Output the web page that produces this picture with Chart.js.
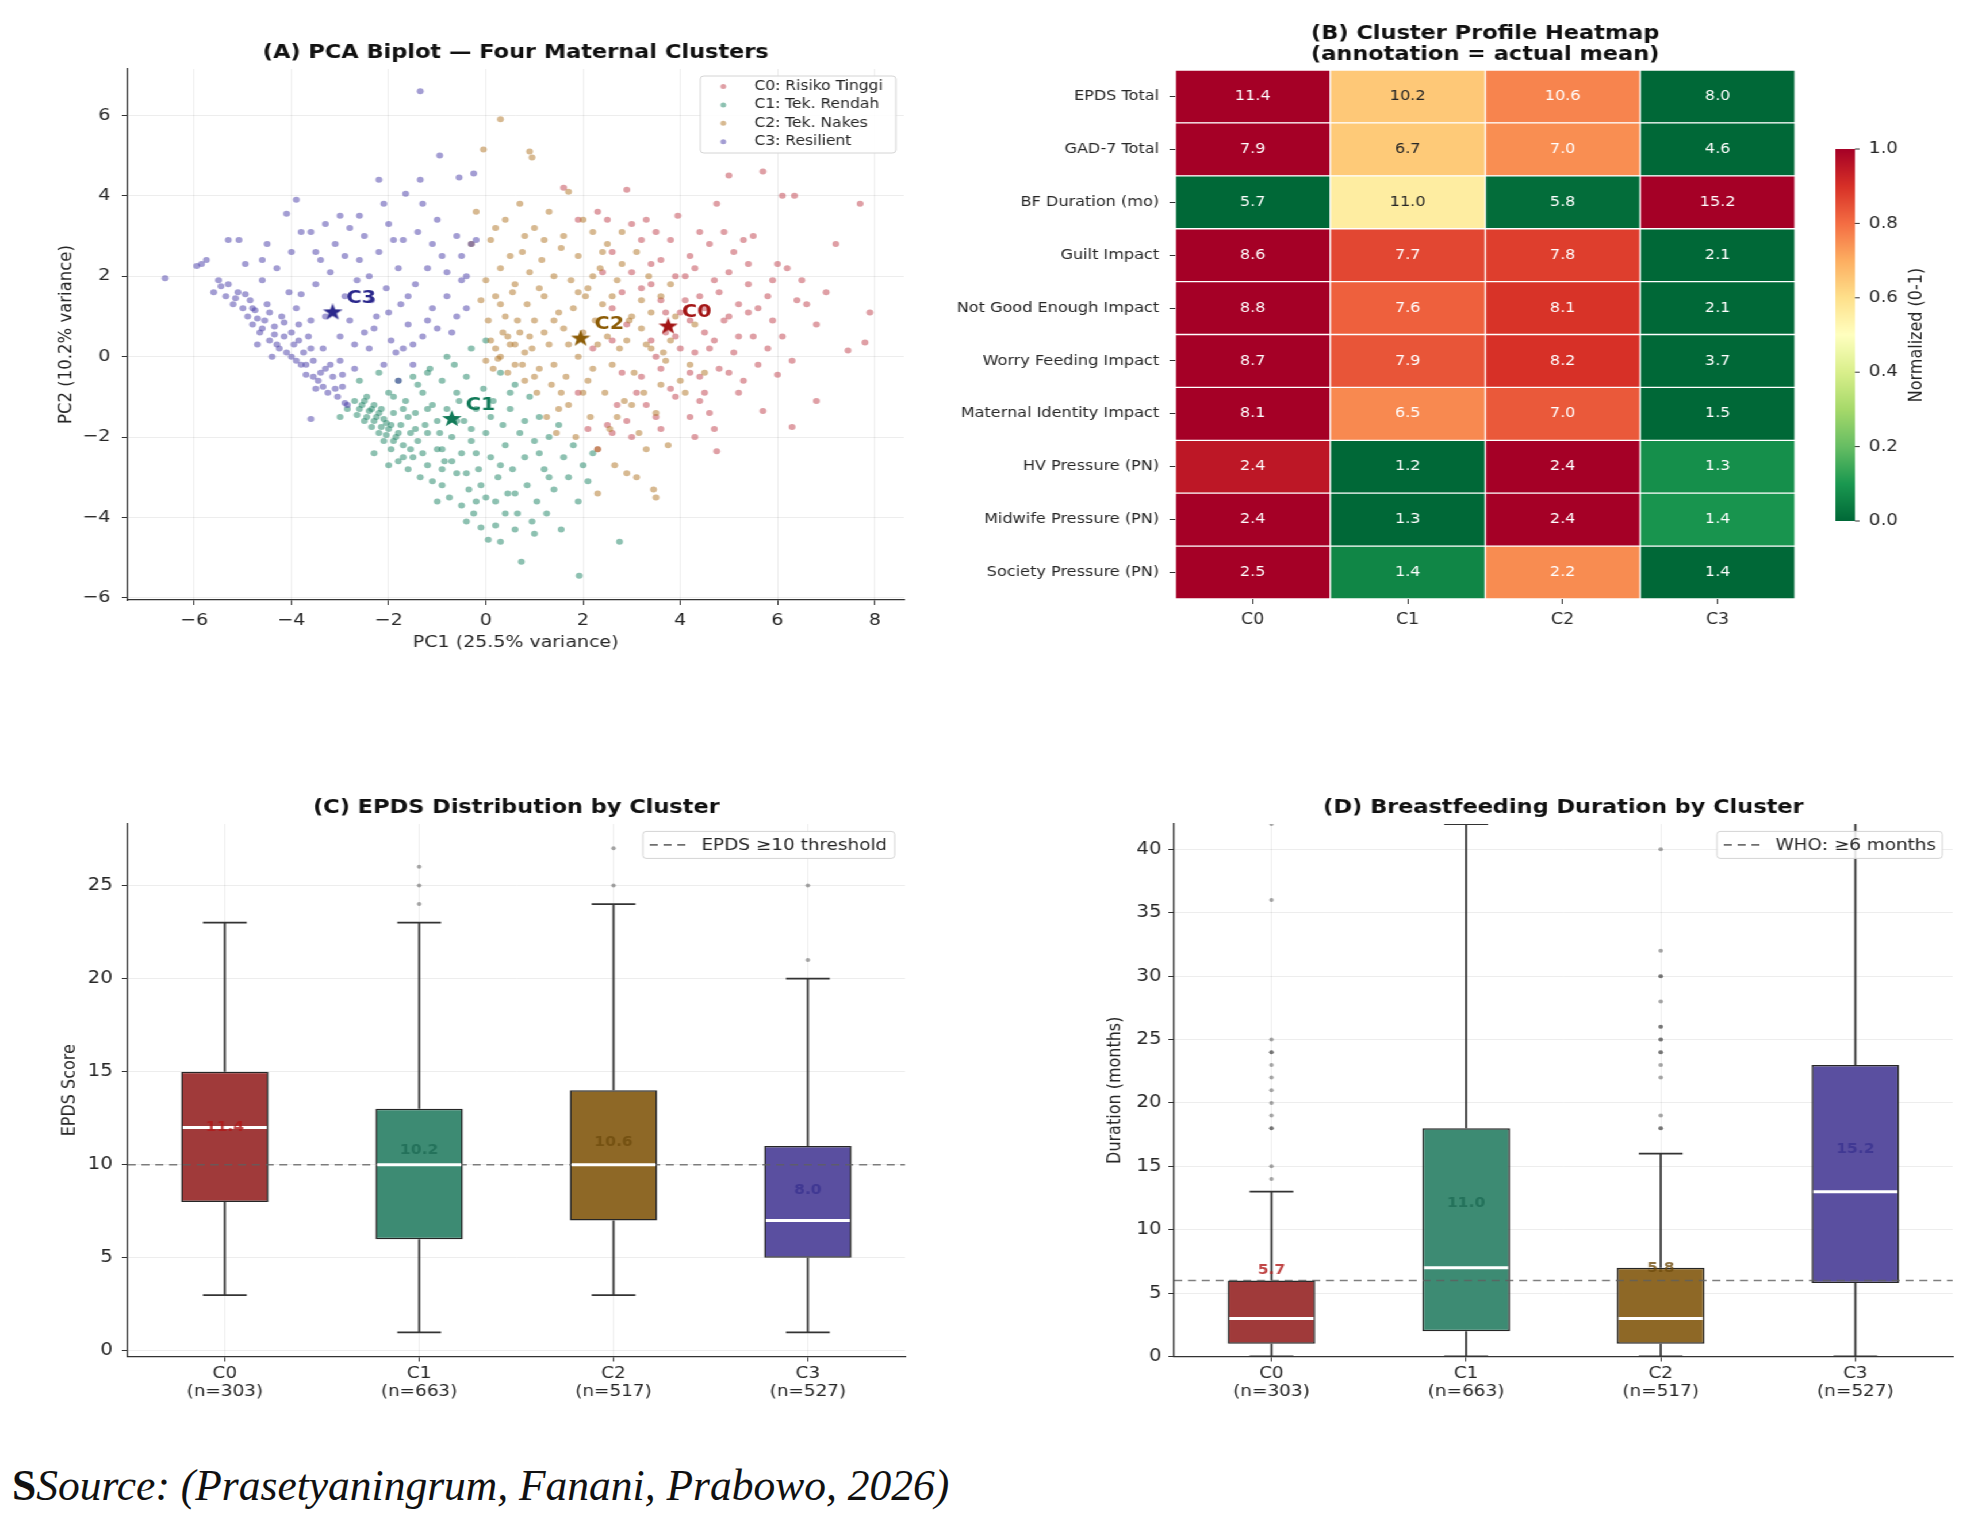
<!DOCTYPE html>
<html>
<head>
<meta charset="utf-8">
<title>Maternal clusters</title>
<script src="https://cdn.jsdelivr.net/npm/chart.js@4.4.1/dist/chart.umd.min.js"></script>
<style>
    html, body { margin: 0; padding: 0; background: #fff; }
    body { width: 1969px; height: 1523px; position: relative; overflow: hidden; }
    #fig { position: absolute; left: 0; top: 0; width: 1712px; height: 1440px; transform: scaleX(1.15); transform-origin: 0 0; }
    #fig canvas { position: absolute; }
    #source { position: absolute; left: 12px; top: 1460px; font: italic 43.5px/50px "Liberation Serif", serif; color: #111; white-space: nowrap; }
    #source b { font-style: normal; }
</style>
</head>
<body>
<div id="fig">
    <canvas id="pca" width="835" height="700" style="left:0;top:0"></canvas>
    <canvas id="heat" width="895" height="660" style="left:817px;top:0"></canvas>
    <canvas id="epds" width="835" height="660" style="left:0;top:760px"></canvas>
    <canvas id="bf" width="862" height="660" style="left:850px;top:760px"></canvas>
</div>
<div id="source"><b>S</b>Source: (Prasetyaningrum, Fanani, Prabowo, 2026)</div>
<script>
// ---------- shared ----------
const clusterNames = ["C0", "C1", "C2", "C3"];
const nLabels = ["(n=303)", "(n=663)", "(n=517)", "(n=527)"];

// ---------- (A) PCA biplot ----------
const legendNames = ["C0: Risiko Tinggi", "C1: Tek. Rendah", "C2: Tek. Nakes", "C3: Resilient"];
const pcaC0 = [[1.6,4.2],[1.9,3.4],[2.3,3.6],[2.5,3.4],[2.6,2.6],[2.9,4.15],[3.0,3.3],[3.2,2.9],[3.3,3.4],[3.5,3.1],[3.6,2.4],[3.8,2.9],[3.95,3.5],[4.1,2.0],[4.2,2.5],[4.4,3.1],[4.6,2.8],[4.75,3.8],[4.8,1.6],[4.9,3.1],[5.0,4.5],[5.0,2.1],[5.2,1.3],[5.3,2.9],[5.4,2.3],[5.5,3.0],[5.6,1.2],[5.7,4.6],[5.8,1.5],[5.9,1.9],[6.0,2.3],[6.1,4.0],[6.2,2.2],[6.35,4.0],[6.4,1.4],[6.5,1.9],[6.6,1.3],[6.8,0.8],[7.0,1.6],[7.2,2.8],[7.45,0.15],[7.7,3.8],[7.8,0.35],[7.9,1.1],[6.3,-0.1],[6.0,-0.45],[6.8,-1.1],[6.3,-1.75],[5.7,-1.35],[5.9,0.9],[6.1,0.5],[5.6,-0.2],[5.5,0.5],[5.3,-0.6],[5.2,-0.9],[5.1,0.1],[4.9,0.9],[4.7,1.9],[4.6,-1.4],[4.7,-1.8],[4.75,-2.35],[4.5,0.6],[4.4,-0.5],[4.4,1.5],[4.3,0.1],[4.3,-2.0],[4.2,-1.5],[4.0,0.2],[4.0,1.1],[3.9,-1.0],[3.9,2.0],[3.6,1.4],[3.6,-0.3],[3.5,-1.5],[3.4,0.4],[3.3,-1.2],[3.2,1.7],[3.2,-0.5],[3.0,-2.0],[2.9,0.8],[2.8,-0.4],[2.7,-1.2],[2.6,1.2],[2.4,2.1],[2.3,-2.3],[2.2,0.2],[2.1,-1.8],[1.9,-0.9],[2.6,-1.9],[2.5,-1.7],[3.8,-0.8],[4.5,-0.9],[5.4,1.8],[4.6,0.2],[3.7,0.6],[4.2,0.9],[5.0,-0.4],[2.8,1.6],[3.4,2.3],[2.9,-1.6],
    [3.4,1.8],[3.7,1.1],[3.9,0.5],[4.1,1.4],[4.3,2.2],[4.5,1.2],[4.7,0.4],[4.8,-0.3],[5.0,1.0],[5.2,0.5],[5.4,1.1],[5.1,2.6],[4.4,-1.1],[3.6,-1.8],[3.1,-0.9],[2.6,0.4],[3.0,2.1],[3.5,0.0],[4.2,-0.4],[5.8,0.2]];
const pcaC1 = [[-3.0,-1.5],[-2.85,-1.3],[-2.7,-1.1],[-2.65,-1.45],[-2.6,-0.6],[-2.55,-1.2],[-2.5,-1.6],[-2.45,-1.0],[-2.4,-1.35],[-2.35,-1.75],[-2.3,-1.2],[-2.3,-2.4],[-2.25,-1.5],[-2.2,-1.9],[-2.2,-0.4],[-2.15,-1.3],[-2.1,-2.1],[-2.05,-1.65],[-2.0,-0.9],[-2.0,-1.8],[-2.0,-2.7],[-1.95,-2.3],[-1.9,-1.4],[-1.9,-1.0],[-1.85,-2.0],[-1.8,-0.6],[-1.8,-2.6],[-1.75,-1.7],[-1.7,-2.2],[-1.7,-1.3],[-1.65,-1.1],[-1.6,-2.8],[-1.55,-1.9],[-1.5,-0.5],[-1.5,-2.5],[-1.45,-1.4],[-1.4,-2.1],[-1.4,-0.7],[-1.35,-3.0],[-1.3,-0.9],[-1.25,-1.7],[-1.2,-2.7],[-1.2,-1.9],[-1.2,-0.4],[-1.15,-0.3],[-1.1,-3.1],[-1.1,-1.2],[-1.0,-2.3],[-0.95,-1.9],[-0.9,-0.6],[-0.9,-3.2],[-0.9,-2.3],[-0.85,-2.6],[-0.8,-1.3],[-0.8,0.0],[-0.75,-3.5],[-0.7,-2.0],[-0.65,-0.2],[-0.6,-2.9],[-0.6,-1.6],[-0.55,-1.1],[-0.5,-3.7],[-0.5,-2.4],[-0.45,-1.6],[-0.4,-0.5],[-0.4,-4.1],[-0.35,-3.3],[-0.3,-2.1],[-0.3,0.2],[-0.25,-3.9],[-0.2,-1.3],[-0.2,-2.4],[-0.15,-2.8],[-0.1,-4.25],[-0.05,-0.8],[0.0,-1.9],[0.0,-3.5],[0.0,0.4],[0.05,-4.55],[0.1,-2.5],[0.15,-1.1],[0.2,-4.2],[0.2,-3.6],[0.25,-3.0],[0.3,-0.4],[0.3,-4.6],[0.35,-1.7],[0.4,-2.2],[0.45,-3.4],[0.5,-1.3],[0.55,-2.8],[0.6,-0.7],[0.6,-4.3],[0.65,-3.9],[0.7,-1.9],[0.73,-5.1],[0.8,-2.5],[0.85,-3.2],[0.9,-1.0],[0.95,-4.1],[1.0,-2.1],[1.0,-4.4],[1.05,-3.6],[1.1,-1.5],[1.2,-2.8],[1.25,-3.9],[1.3,-2.0],[1.4,-3.3],[1.5,-1.7],[1.55,-4.3],[1.6,-2.5],[1.7,-3.0],[1.8,-2.2],[1.9,-3.6],[1.92,-5.45],[2.0,-2.7],[2.1,-3.1],[2.2,-2.4],[2.75,-4.6],
    [-2.6,-1.3],[-2.5,-1.1],[-2.45,-1.5],[-2.35,-1.3],[-2.3,-1.6],[-2.2,-1.4],[-2.15,-1.75],[-2.1,-1.55],[-2.05,-1.95],[-1.95,-1.7],[-1.9,-2.1],[-1.8,-1.9],[-1.7,-2.5],[-1.6,-1.5],[-1.55,-2.3],[-1.45,-1.8],[-1.3,-2.4],[-1.2,-1.3],[-1.0,-1.6],[-0.9,-2.8],[-0.7,-2.6],[-0.6,-0.9],[-0.4,-2.9],[-0.3,-1.8],[-0.1,-3.2],[0.1,-1.5],[0.3,-2.7],[0.5,-0.9],[0.6,-3.4],[0.8,-1.6],[1.1,-2.4],[1.3,-3.0],[-1.0,-3.6],[-0.2,-3.6],[0.4,-3.9]];
const pcaC2 = [[-0.05,5.15],[0.3,5.9],[0.9,5.1],[0.95,4.95],[-0.3,2.8],[-0.2,3.6],[-0.1,1.4],[0.0,1.9],[0.0,-0.1],[0.05,0.9],[0.1,2.9],[0.1,0.4],[0.15,-0.3],[0.2,3.2],[0.2,1.5],[0.25,-0.05],[0.3,2.2],[0.35,0.6],[0.4,3.4],[0.4,1.0],[0.45,-0.4],[0.5,0.3],[0.5,2.5],[0.55,1.6],[0.6,1.8],[0.6,-0.2],[0.65,0.9],[0.7,3.8],[0.7,0.6],[0.75,2.6],[0.8,-0.6],[0.85,1.3],[0.9,2.1],[0.95,0.2],[1.0,3.2],[1.0,0.9],[1.05,-0.9],[1.1,-0.3],[1.1,1.7],[1.15,2.4],[1.2,1.5],[1.25,-1.5],[1.3,3.6],[1.3,0.3],[1.35,-0.7],[1.4,2.0],[1.45,-1.9],[1.5,1.1],[1.55,2.7],[1.6,3.0],[1.6,0.7],[1.65,-0.5],[1.7,4.1],[1.7,-1.2],[1.75,1.9],[1.8,1.2],[1.85,-2.0],[1.9,2.5],[1.9,0.0],[2.0,-0.9],[2.0,3.4],[2.05,1.5],[2.1,1.7],[2.15,-1.5],[2.2,3.1],[2.2,-0.3],[2.25,0.9],[2.3,-2.3],[2.3,-3.4],[2.35,2.2],[2.4,1.3],[2.45,-0.9],[2.5,2.8],[2.5,0.5],[2.55,-1.8],[2.6,-0.2],[2.65,-2.7],[2.7,1.9],[2.75,0.2],[2.8,2.3],[2.85,-1.1],[2.9,-2.9],[2.95,0.9],[3.0,1.0],[3.05,-0.4],[3.1,2.6],[3.1,-3.0],[3.15,-1.9],[3.2,1.4],[3.25,-0.9],[3.3,0.3],[3.35,2.0],[3.4,0.2],[3.45,-3.3],[3.5,-1.4],[3.5,-3.5],[3.6,1.5],[3.65,0.1],[3.7,-0.1],[3.75,-2.2],[3.8,1.8],[3.9,1.0],[4.0,-0.6],[4.1,-0.9],[4.2,-0.2],[4.3,0.8],[4.5,-0.4],[0.8,0.1],[1.4,-0.2],[2.0,0.6],
    [0.2,0.2],[0.3,0.0],[0.45,0.5],[0.6,0.3],[0.75,-0.2],[0.9,0.5],[1.0,-0.5],[1.2,0.6],[1.4,0.9],[1.55,-0.9],[1.7,0.3],[1.9,1.6],[2.1,-0.6],[2.3,0.3],[2.4,2.6],[2.6,1.5],[2.7,-1.5],[2.9,0.4],[3.0,-1.2],[3.2,0.7],[3.3,-2.3],[3.4,1.1],[3.6,-0.7],[3.8,0.4],[1.2,2.9],[0.8,3.0],[1.5,-1.3],[2.2,2.0],[2.8,3.1],[0.3,1.3]];
const pcaC3 = [[-6.6,1.95],[-5.95,2.25],[-5.85,2.3],[-5.75,2.4],[-5.3,2.9],[-5.08,2.9],[-5.6,1.6],[-5.5,1.9],[-5.45,1.75],[-5.35,1.5],[-5.2,1.3],[-5.1,1.6],[-5.0,1.2],[-4.95,2.3],[-4.9,1.0],[-4.85,1.4],[-4.8,0.8],[-4.75,1.15],[-4.7,0.3],[-4.65,0.6],[-4.6,1.9],[-4.6,2.4],[-4.55,0.9],[-4.5,1.3],[-4.5,2.8],[-4.45,0.4],[-4.4,0.0],[-4.35,0.75],[-4.3,2.2],[-4.25,0.2],[-4.2,1.0],[-4.15,0.5],[-4.1,3.55],[-4.05,1.6],[-4.0,0.0],[-4.0,2.6],[-3.95,0.3],[-3.9,3.9],[-3.85,0.8],[-3.8,-0.2],[-3.8,1.55],[-3.8,3.1],[-3.75,0.1],[-3.7,-0.45],[-3.65,0.5],[-3.6,3.1],[-3.6,-1.55],[-3.55,-0.1],[-3.5,1.8],[-3.5,-0.8],[-3.45,-0.6],[-3.4,2.4],[-3.35,0.2],[-3.3,-0.3],[-3.3,3.3],[-3.25,-0.9],[-3.2,2.1],[-3.15,-0.5],[-3.1,2.8],[-3.05,-1.0],[-3.0,-0.1],[-3.0,3.5],[-2.95,-0.75],[-2.9,1.5],[-2.9,-1.15],[-2.85,-1.2],[-2.8,3.2],[-2.8,0.9],[-2.7,-0.3],[-2.65,1.9],[-2.6,2.4],[-2.6,3.5],[-2.5,0.6],[-2.5,3.0],[-2.4,0.2],[-2.35,1.4],[-2.25,1.0],[-2.2,2.6],[-2.2,4.4],[-2.1,-0.2],[-2.05,1.7],[-2.0,3.3],[-1.95,0.4],[-1.9,2.9],[-1.85,0.1],[-1.8,2.2],[-1.8,-0.6],[-1.75,1.3],[-1.7,2.9],[-1.65,4.05],[-1.6,0.8],[-1.5,0.3],[-1.5,-0.2],[-1.45,1.8],[-1.4,3.1],[-1.35,4.4],[-1.35,6.6],[-1.3,0.5],[-1.3,3.8],[-1.2,2.2],[-1.1,1.2],[-1.0,0.7],[-1.0,3.4],[-0.95,5.0],[-0.9,2.5],[-0.8,1.5],[-0.7,0.6],[-0.6,3.0],[-0.55,4.45],[-0.5,1.9],[-0.4,1.2],[-0.4,2.0],[-0.3,2.8],[-0.25,4.55],[-0.2,2.9],
    [-5.3,1.8],[-5.15,1.45],[-4.95,1.55],[-4.8,1.2],[-4.7,0.95],[-4.6,0.7],[-4.45,1.1],[-4.35,0.55],[-4.3,0.3],[-4.15,0.85],[-4.1,0.1],[-4.0,0.6],[-3.9,-0.1],[-3.85,0.4],[-3.7,-0.2],[-3.6,0.2],[-3.55,-0.5],[-3.4,-0.4],[-3.35,-0.75],[-3.2,-0.2],[-3.1,-0.8],[-2.95,-0.45],[-3.9,1.2],[-3.6,0.9],[-3.3,1.0],[-3.0,0.5],[-2.7,0.3],[-2.3,0.7],[-2.0,1.1],[-1.7,0.2],[-1.2,0.9],[-0.8,2.1],[-0.6,1.0],[-1.6,1.5],[-2.4,2.0],[-2.9,2.5],[-3.5,2.6],[-1.1,2.8],[-0.5,2.5],[-2.1,3.8]];
const centroidX = [3.75, -0.7, 1.95, -3.15];
const centroidY = [0.75, -1.55, 0.45, 1.1];

// ---------- (B) cluster profile heatmap (actual means) ----------
const heatRows = ["EPDS Total", "GAD-7 Total", "BF Duration (mo)", "Guilt Impact", "Not Good Enough Impact",
    "Worry Feeding Impact", "Maternal Identity Impact", "HV Pressure (PN)", "Midwife Pressure (PN)", "Society Pressure (PN)"];
const heatC0 = [11.4, 7.86, 5.7, 8.6, 8.8, 8.7, 8.1, 2.37, 2.4, 2.5];
const heatC1 = [10.2, 6.7, 11.0, 7.7, 7.6, 7.9, 6.5, 1.2, 1.3, 1.44];
const heatC2 = [10.6, 7.04, 5.8, 7.8, 8.1, 8.2, 7.0, 2.43, 2.4, 2.22];
const heatC3 = [8.0, 4.6, 15.2, 2.1, 2.1, 3.7, 1.5, 1.3, 1.4, 1.37];
const colorbarTicks = [0, 0.2, 0.4, 0.6, 0.8, 1.0];

// ---------- (C) EPDS by cluster ----------
const epdsLow = [3, 1, 3, 1];
const epdsQ1 = [8, 6, 7, 5];
const epdsMedian = [12, 10, 10, 7];
const epdsQ3 = [15, 13, 14, 11];
const epdsHigh = [23, 23, 24, 20];
const epdsMean = [11.4, 10.2, 10.6, 8.0];
const epdsOutliers = [[], [24, 25, 26], [25, 27], [21, 25]];
const epdsThreshold = 10;

// ---------- (D) breastfeeding duration by cluster ----------
const bfLow = [0, 0, 0, 0];
const bfQ1 = [1, 2, 1, 5.8];
const bfMedian = [3, 7, 3, 13];
const bfQ3 = [6, 18, 7, 23];
const bfHigh = [13, 42, 16, 45];
const bfMean = [5.7, 11.0, 5.8, 15.2];
const bfOutliers = [[14, 15, 18, 18, 19, 20, 21, 22, 23, 24, 24, 25, 36, 42], [],
    [18, 18, 19, 22, 23, 24, 24, 25, 25, 26, 26, 28, 30, 30, 32, 40], []];
const whoThreshold = 6;

// ---------- styles ----------
const FONT = '"DejaVu Sans", sans-serif';
const pointColors = ["rgba(192,64,76,0.5)", "rgba(28,132,100,0.5)", "rgba(176,116,36,0.5)", "rgba(72,60,168,0.5)"];
const starColors = ["#a31515", "#117a58", "#8c5c06", "#2b288c"];
const boxColors = ["#a03a3a", "#3d8b73", "#8e6826", "#5a4fa0"];
const meanColors = ["#b01818", "#1e6b55", "#6f4c0e", "#3a3290"];
const gridColor = "rgba(0,0,0,0.07)";
const rdylgn = ["#006837", "#1a9850", "#66bd63", "#a6d96a", "#d9ef8b", "#ffffbf", "#fee08b", "#fdae61", "#f46d43", "#d73027", "#a50026"];

Chart.defaults.font.family = FONT;
Chart.defaults.color = "#262626";
Chart.defaults.animation = false;
Chart.defaults.plugins.legend.display = false;
Chart.defaults.plugins.tooltip.enabled = false;

const minus = v => String(v).replace("-", "\u2212");

function hexRgb(h) {
    return [1, 3, 5].map(k => parseInt(h.slice(k, k + 2), 16));
}

// RdYlGn reversed: 0 = green, 1 = red
function heatRgb(t) {
    const p = Math.max(0, Math.min(1, t)) * 10;
    const k = Math.min(9, Math.floor(p)), f = p - k;
    const a = hexRgb(rdylgn[k]), b = hexRgb(rdylgn[k + 1]);
    return a.map((v, n) => Math.round(v + (b[n] - v) * f));
}

function luminance(c) {
    const l = c.map(v => {
        v /= 255;
        return v <= 0.03928 ? v / 12.92 : Math.pow((v + 0.055) / 1.055, 2.4);
    });
    return 0.2126 * l[0] + 0.7152 * l[1] + 0.0722 * l[2];
}

function starImage(color, size) {
    const c = document.createElement("canvas");
    c.width = c.height = size;
    const g = c.getContext("2d");
    g.fillStyle = color;
    g.beginPath();
    for (let k = 0; k < 10; k++) {
        const r = k % 2 ? size * 0.2 : size * 0.5;
        const a = -Math.PI / 2 + k * Math.PI / 5;
        g.lineTo(size / 2 + r * Math.cos(a), size / 2 + r * Math.sin(a));
    }
    g.closePath();
    g.fill();
    return c;
}

function seg(ctx, x1, y1, x2, y2) {
    ctx.beginPath();
    ctx.moveTo(x1, y1);
    ctx.lineTo(x2, y2);
    ctx.stroke();
}

function legendBox(ctx, x, y, w, h) {
    ctx.fillStyle = "rgba(255,255,255,0.85)";
    ctx.strokeStyle = "#d4d4d4";
    ctx.lineWidth = 1;
    ctx.beginPath();
    ctx.roundRect(x, y, w, h, 3);
    ctx.fill();
    ctx.stroke();
}

// ================= (A) PCA biplot =================
const pcaSets = [pcaC0, pcaC1, pcaC2, pcaC3];

const pcaExtras = {
    id: "pcaExtras",
    afterDatasetsDraw(chart) {
        const {ctx, chartArea, scales: {x, y}} = chart;
        ctx.save();
        ctx.font = `bold 18px ${FONT}`;
        ctx.textBaseline = "middle";
        centroidX.forEach((cx, i) => {
            ctx.fillStyle = starColors[i];
            ctx.fillText(clusterNames[i], x.getPixelForValue(cx) + 12, y.getPixelForValue(centroidY[i]) - 14);
        });

        const w = 170, h = 77;
        const bx = chartArea.right - 7 - w, by = chartArea.top + 7;
        legendBox(ctx, bx, by, w, h);
        ctx.font = `13.5px ${FONT}`;
        legendNames.forEach((name, i) => {
            const ly = by + 10.5 + i * 18.4;
            ctx.fillStyle = pointColors[i];
            ctx.beginPath();
            ctx.arc(bx + 20, ly, 2.5, 0, Math.PI * 2);
            ctx.fill();
            ctx.fillStyle = "#262626";
            ctx.fillText(name, bx + 47, ly);
        });
        ctx.restore();
    }
};

new Chart(document.getElementById("pca"), {
    type: "scatter",
    data: {
        datasets: [
            ...pcaSets.map((pts, i) => ({
                label: legendNames[i],
                data: pts.map(p => ({x: p[0], y: p[1]})),
                pointRadius: 3,
                pointBackgroundColor: pointColors[i],
                pointBorderWidth: 0,
                order: 4 - i
            })),
            {
                label: "centroids",
                data: centroidX.map((cx, i) => ({x: cx, y: centroidY[i]})),
                pointStyle: starColors.map(c => starImage(c, 18)),
                order: 0
            }
        ]
    },
    options: {
        responsive: false,
        devicePixelRatio: 1,
        layout: {padding: {left: 0, top: 0, bottom: 0, right: 49}, autoPadding: false},
        plugins: {
            title: {
                display: true, text: "(A) PCA Biplot \u2014 Four Maternal Clusters", fullSize: false,
                color: "#111", font: {size: 19.5, weight: "bold"}, padding: {top: 41.3, bottom: 4.3}
            }
        },
        scales: {
            x: {
                type: "linear", min: -7.37, max: 8.6,
                afterFit: s => { s.height = 100; },
                ticks: {stepSize: 2, includeBounds: false, padding: 5.5, font: {size: 16.5}, callback: minus},
                grid: {color: gridColor, tickColor: "#333", tickLength: 5},
                border: {color: "#333", width: 1.3},
                title: {display: true, text: "PC1 (25.5% variance)", font: {size: 16.5}, padding: {bottom: 47.4}}
            },
            y: {
                type: "linear", min: -6.05, max: 7.15,
                afterFit: s => { s.width = 111; },
                ticks: {stepSize: 2, includeBounds: false, padding: 10, font: {size: 16.5}, callback: minus},
                grid: {color: gridColor, tickColor: "#333", tickLength: 5},
                border: {color: "#333", width: 1.3},
                title: {display: true, text: "PC2 (10.2% variance)", font: {size: 16.5}, padding: {top: 47.5}}
            }
        }
    },
    plugins: [pcaExtras]
});

// ================= (B) heatmap =================
const heatCols = [heatC0, heatC1, heatC2, heatC3];
const heatNorm = heatCols.map(col => col.map((v, i) => {
    const row = heatCols.map(c => c[i]);
    const lo = Math.min(...row), hi = Math.max(...row);
    return (v - lo) / (hi - lo);
}));

const heatExtras = {
    id: "heatExtras",
    afterDatasetsDraw(chart) {
        const {ctx, chartArea} = chart;
        ctx.save();
        ctx.font = `14px ${FONT}`;
        ctx.textAlign = "center";
        ctx.textBaseline = "middle";
        heatCols.forEach((col, j) => {
            chart.getDatasetMeta(j).data.forEach((bar, i) => {
                ctx.fillStyle = luminance(heatRgb(heatNorm[j][i])) > 0.408 ? "#262626" : "#ffffff";
                ctx.fillText(col[i].toFixed(1), (bar.x + bar.base) / 2, bar.y);
            });
        });

        // colorbar
        const cbX = chartArea.right + 35, cbW = 17;
        const cbTop = chartArea.top + 79, cbBot = chartArea.bottom - 78;
        const grad = ctx.createLinearGradient(0, cbBot, 0, cbTop);
        rdylgn.forEach((c, k) => grad.addColorStop(k / 10, c));
        ctx.fillStyle = grad;
        ctx.fillRect(cbX, cbTop, cbW, cbBot - cbTop);
        ctx.strokeStyle = "#333";
        ctx.lineWidth = 1;
        ctx.fillStyle = "#262626";
        ctx.font = `16px ${FONT}`;
        ctx.textAlign = "left";
        colorbarTicks.forEach(t => {
            const ty = cbBot - t * (cbBot - cbTop);
            seg(ctx, cbX + cbW, ty, cbX + cbW + 4, ty);
            ctx.fillText(t.toFixed(1), cbX + cbW + 12, ty);
        });
        ctx.translate(cbX + 71, (cbTop + cbBot) / 2);
        ctx.rotate(-Math.PI / 2);
        ctx.textAlign = "center";
        ctx.fillText("Normalized (0-1)", 0, 0);
        ctx.restore();
    }
};

new Chart(document.getElementById("heat"), {
    type: "bar",
    data: {
        labels: heatRows,
        datasets: heatCols.map((col, j) => ({
            label: clusterNames[j],
            data: col.map(() => [j - 0.5, j + 0.5]),
            backgroundColor: heatNorm[j].map(t => `rgb(${heatRgb(t).join(",")})`),
            borderColor: "#ffffff",
            borderWidth: 1,
            borderSkipped: false,
            barPercentage: 1,
            categoryPercentage: 1,
            grouped: false
        }))
    },
    options: {
        indexAxis: "y",
        responsive: false,
        devicePixelRatio: 1,
        layout: {padding: {left: 0, top: 0, bottom: 0, right: 151}, autoPadding: false},
        plugins: {
            title: {
                display: true, text: ["(B) Cluster Profile Heatmap", "(annotation = actual mean)"], fullSize: false,
                color: "#111", font: {size: 19.5, weight: "bold", lineHeight: 1.08}, padding: {top: 23.5, bottom: 4.4}
            }
        },
        scales: {
            x: {
                type: "linear", min: -0.5, max: 3.5,
                afterFit: s => { s.height = 61; },
                afterBuildTicks: s => { s.ticks = clusterNames.map((c, i) => ({value: i})); },
                ticks: {padding: 7, font: {size: 15}, callback: v => clusterNames[v]},
                grid: {drawOnChartArea: false, tickLength: 5, tickColor: "#333"},
                border: {display: false}
            },
            y: {
                afterFit: s => { s.width = 205; },
                ticks: {padding: 9, font: {size: 14}},
                grid: {drawOnChartArea: false, offset: false, tickLength: 5, tickColor: "#333"},
                border: {display: false}
            }
        }
    },
    plugins: [heatExtras]
});

// ================= (C) and (D) box plots =================
function boxExtras(s) {
    return {
        id: "boxExtras",
        beforeDatasetsDraw(chart) {
            const {ctx, chartArea: a, scales: {x, y}} = chart;
            const boxes = chart.getDatasetMeta(0).data;
            ctx.save();
            ctx.beginPath();
            ctx.rect(a.left, a.top, a.width, a.height);
            ctx.clip();
            ctx.strokeStyle = "#333";
            ctx.lineWidth = 1.8;
            s.low.forEach((lo, i) => {
                const cx = x.getPixelForValue(i), cap = boxes[i].width / 4;
                const yLo = y.getPixelForValue(lo), yHi = y.getPixelForValue(s.high[i]);
                seg(ctx, cx, yLo, cx, y.getPixelForValue(s.q1[i]));
                seg(ctx, cx, y.getPixelForValue(s.q3[i]), cx, yHi);
                seg(ctx, cx - cap, yLo, cx + cap, yLo);
                seg(ctx, cx - cap, yHi, cx + cap, yHi);
            });
            ctx.restore();
        },
        afterDatasetsDraw(chart) {
            const {ctx, chartArea: a, scales: {x, y}} = chart;
            const boxes = chart.getDatasetMeta(0).data;
            ctx.save();
            // reference line
            const ty = y.getPixelForValue(s.threshold);
            ctx.strokeStyle = "rgba(95,95,95,0.8)";
            ctx.lineWidth = 1.6;
            ctx.setLineDash([7, 5]);
            seg(ctx, a.left, ty, a.right, ty);
            ctx.setLineDash([]);
            // medians and mean labels
            s.median.forEach((m, i) => {
                const cx = x.getPixelForValue(i), hw = boxes[i].width / 2 - 1.5;
                const my = y.getPixelForValue(m);
                ctx.strokeStyle = "#ffffff";
                ctx.lineWidth = 3;
                seg(ctx, cx - hw, my, cx + hw, my);
                ctx.fillStyle = meanColors[i];
                ctx.globalAlpha = 0.8;
                ctx.font = `bold 13.5px ${FONT}`;
                ctx.textAlign = "center";
                ctx.textBaseline = "middle";
                ctx.fillText(s.mean[i].toFixed(1), cx, y.getPixelForValue(s.mean[i]) - s.labelLift);
                ctx.globalAlpha = 1;
            });
            // legend
            const bx = a.right - 9 - s.legendW, by = a.top + 7.4;
            legendBox(ctx, bx, by, s.legendW, 27);
            ctx.strokeStyle = "rgba(95,95,95,0.9)";
            ctx.lineWidth = 1.6;
            ctx.setLineDash([7, 5]);
            seg(ctx, bx + 6, by + 13.5, bx + 37, by + 13.5);
            ctx.setLineDash([]);
            ctx.fillStyle = "#262626";
            ctx.font = `16px ${FONT}`;
            ctx.textAlign = "left";
            ctx.textBaseline = "middle";
            ctx.fillText(s.legend, bx + 51, by + 14);
            ctx.restore();
        }
    };
}

function boxPanel(id, s) {
    new Chart(document.getElementById(id), {
        type: "bar",
        data: {
            labels: clusterNames,
            datasets: [
                {
                    type: "bar",
                    data: s.q1.map((q, i) => [q, s.q3[i]]),
                    backgroundColor: boxColors,
                    borderColor: "#262626",
                    borderWidth: 1.5,
                    borderSkipped: false,
                    barPercentage: 0.45,
                    categoryPercentage: 1,
                    order: 2
                },
                {
                    type: "line",
                    data: s.outliers.flatMap((arr, i) => arr.map(v => ({x: clusterNames[i], y: v}))),
                    showLine: false,
                    pointRadius: 2,
                    pointBackgroundColor: "rgba(60,60,60,0.45)",
                    pointBorderWidth: 0,
                    order: 1
                }
            ]
        },
        options: {
            responsive: false,
            devicePixelRatio: 1,
            layout: {padding: {left: 0, top: 0, bottom: 0, right: s.padRight}, autoPadding: false},
            plugins: {
                title: {
                    display: true, text: s.title, fullSize: false,
                    color: "#111", font: {size: 19.5, weight: "bold"}, padding: {top: 36.3, bottom: 4.3}
                }
            },
            scales: {
                x: {
                    afterFit: sc => { sc.height = 63.5; },
                    ticks: {padding: 3.5, font: {size: 16, lineHeight: 1.12}, callback: (v, i) => [clusterNames[i], nLabels[i]]},
                    grid: {offset: false, color: gridColor, tickColor: "#333", tickLength: 5},
                    border: {color: "#333", width: 1.3}
                },
                y: {
                    min: s.min, max: s.max,
                    afterFit: sc => { sc.width = s.left; },
                    ticks: {stepSize: 5, includeBounds: false, padding: s.tickPad, font: {size: 17}},
                    grid: {color: gridColor, tickColor: "#333", tickLength: 5},
                    border: {color: "#333", width: 1.3},
                    title: {display: true, text: s.yTitle, font: {size: 16}, padding: {top: s.yTitlePad}}
                }
            }
        },
        plugins: [boxExtras(s)]
    });
}

boxPanel("epds", {
    title: "(C) EPDS Distribution by Cluster", yTitle: "EPDS Score",
    low: epdsLow, q1: epdsQ1, median: epdsMedian, q3: epdsQ3, high: epdsHigh, mean: epdsMean, outliers: epdsOutliers,
    threshold: epdsThreshold, legend: "EPDS \u226510 threshold", legendW: 219, labelLift: 11,
    min: -0.3, max: 28.3, left: 111, padRight: 48, tickPad: 8, yTitlePad: 50.8
});

boxPanel("bf", {
    title: "(D) Breastfeeding Duration by Cluster", yTitle: "Duration (months)",
    low: bfLow, q1: bfQ1, median: bfMedian, q3: bfQ3, high: bfHigh, mean: bfMean, outliers: bfOutliers,
    threshold: whoThreshold, legend: "WHO: \u22656 months", legendW: 196, labelLift: 14,
    min: 0, max: 42, left: 171, padRight: 14, tickPad: 6, yTitlePad: 110
});
</script>
</body>
</html>
